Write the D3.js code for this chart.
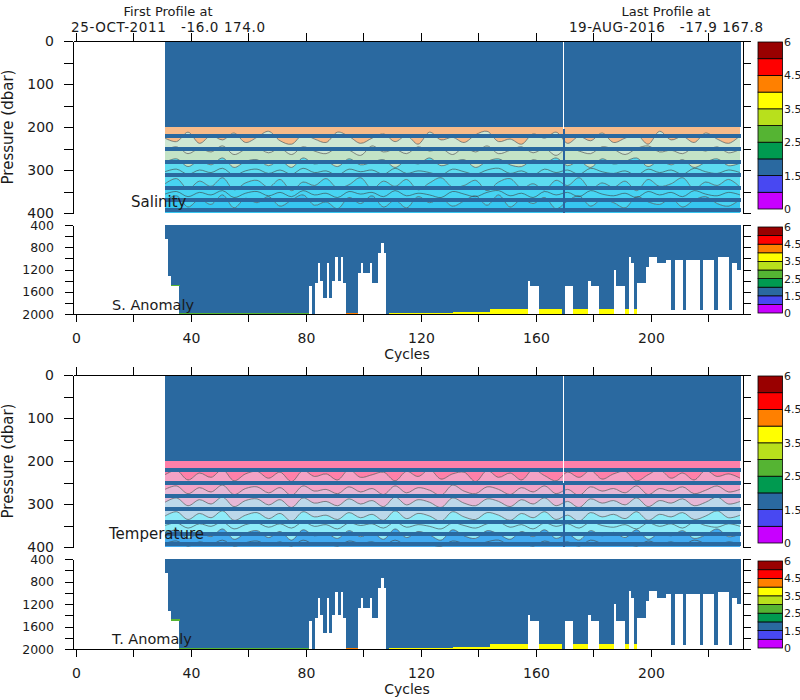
<!DOCTYPE html>
<html><head><meta charset="utf-8">
<script src="https://cdn.jsdelivr.net/npm/d3@7"></script>
<style>
body{margin:0;background:#fff}
text{font-family:"DejaVu Sans",sans-serif;fill:#1a1a1a}
</style>
</head><body>
<svg id="c" width="800" height="700"></svg>
<script>
// ---------------- DATA ----------------
const headerFirst = ["First Profile at", "25-OCT-2011   -16.0 174.0"];
const headerLast  = ["Last Profile at", "19-AUG-2016   -17.9 167.8"];
const cycleDomain = [-1, 232];
const cycleTicks  = [0,20,40,60,80,100,120,140,160,180,200,220];
const cycleLabels = [0,40,80,120,160,200];
const pTicksUpper  = [0,50,100,150,200,250,300,350,400];
const pLabelsUpper = [0,100,200,300,400];
const pTicksAnom   = [400,600,800,1000,1200,1400,1600,1800,2000];
const pLabelsAnom  = [400,800,1200,1600,2000];

const cbLevels = [0,1,1.5,2,2.5,3,3.5,4,4.5,5,6];
const cbColors = ["#c800ff","#4848f2","#2a69a0","#009a50","#55b433","#b8e01c","#ffff00","#ff8000","#ff0000","#990000"];
const cbLabels = [0,1.5,2.5,3.5,4.5,6];

const firstCycle = 31, lastCycle = 230;
const profileValue = 1.8;      // colour class of the plotted profile points
const denseTop = 200;          // dense sampling 0-200 dbar
const sparseLevels = [222, 252, 282, 312, 342, 370, 394];
const gapCycles = [169];       // profile missing in upper part
const gapTopSal = [205];
const gapTopTemp = [250];

// [first cycle, last cycle, deepest pressure]
const profileDepth = [
 [31,31,650],[32,32,1320],[33,35,1500],[36,80,2000],
 [81,81,1500],[82,82,2000],[83,83,1450],[84,84,1090],[85,85,1400],[86,86,1720],
 [87,87,1090],[88,88,1720],[89,89,1400],[90,90,980],[91,91,1400],[92,92,980],[93,93,1450],
 [94,97,2000],
 [98,98,1270],[99,99,1090],[100,101,1270],[102,102,1090],[103,104,1450],[105,105,910],[106,106,730],[107,107,910],
 [108,156,2000],
 [157,157,1400],[158,160,1500],[161,169,2000],[170,172,1500],[173,177,2000],
 [178,178,1400],[179,181,1500],[182,186,2000],[187,187,1200],[188,190,1500],[191,191,2000],
 [192,192,970],[193,193,1090],[194,194,2000],[195,197,1450],[198,198,1150],[199,201,970],
 [202,204,1090],[205,206,1030],[207,207,1920],[208,210,1030],[211,211,1920],[212,216,1030],
 [217,217,1920],[218,221,1030],[222,222,1920],[223,226,980],[227,227,1920],[228,229,1090],[230,230,1200]
];
// deep anomaly layers [first cycle, last cycle, top pressure, value]
const anomLayers = [
 [33,35,1470,2.7],[36,80,1975,2.7],[94,97,1975,4.2],[109,130,1978,3.7],
 [131,143,1962,3.7],[144,195,1905,3.7]
];
const noLayerCycles = [169];

// contour sampling cycles
const contourCycles = [31,35,39,43,47,51,55,59,63,67,71,75,79,83,87,91,95,99,103,107,111,115,119,123,127,131,135,139,143,147,151,155,159,163,167,171,175,179,183,187,191,195,199,203,207,211,215,219,223,227,231];

// salinity contour depths (dbar) – band boundaries
const salC1 = [226,234,212,238,220,230,214,236,224,210,232,240,218,228,236,212,222,238,226,216,234,220,240,212,230,224,236,218,210,234,228,240,216,226,212,238,222,232,214,236,226,218,240,210,230,222,236,214,228,238,220];
const salC2 = [254,246,262,250,258,244,264,252,248,260,250,264,246,256,262,248,254,266,244,258,252,262,246,256,250,264,248,258,244,262,254,246,260,250,266,248,256,262,246,252,264,250,244,258,254,262,248,256,246,260,252];
const salC3 = [282,274,292,278,288,272,294,280,276,290,278,294,272,286,280,292,274,288,282,276,294,278,286,272,290,282,276,294,280,274,288,292,276,284,272,290,280,294,274,286,280,272,292,278,288,276,294,282,274,290,284];
const salC4 = [332,320,344,326,338,318,346,330,324,340,322,348,328,336,320,342,334,318,344,326,338,322,346,330,318,340,336,324,348,328,320,342,332,346,324,336,318,344,330,340,326,348,322,338,332,318,344,328,336,322,340];
const salC5 = [372,360,386,368,380,358,388,366,376,362,384,370,358,382,374,390,364,378,360,386,370,388,362,376,366,384,372,360,382,358,386,368,378,364,390,372,360,384,368,376,388,362,374,380,366,386,370,362,378,384,368];
// salinity extra contour lines
const salC6 = [304,298,310,300,306,296,312,302,298,308,300,310,296,306,302,312,298,304,300,310,296,308,302,306,312,298,304,310,300,296,308,302,312,298,306,300,310,296,304,308,302,312,298,306,300,310,296,304,308,300,306];
const salC7 = [356,350,362,352,358,348,364,354,350,360,352,362,348,358,354,364,350,356,352,362,348,360,354,358,364,350,356,362,352,348,360,354,364,350,358,352,362,348,356,360,354,364,350,358,352,362,348,356,360,352,358];
const salFills = ["#f7bb8a","#cfe7d3","#c3e3c6","#5ddbef","#47d4f2","#36c6f0"];

// temperature contour depths (dbar) – band boundaries
const tmpC1 = [232,222,244,228,238,220,246,230,224,240,226,248,222,236,230,244,220,238,232,226,246,224,236,220,242,230,226,248,222,238,228,244,220,234,246,226,238,222,242,230,224,246,232,220,240,228,244,222,236,230,240];
const tmpC2 = [266,258,276,262,272,256,278,264,260,274,262,280,258,270,266,276,260,272,264,278,258,274,262,268,280,256,270,276,260,266,278,262,272,258,276,266,280,260,270,264,274,258,278,264,270,260,276,268,258,272,266];
const tmpC3 = [296,286,304,290,300,284,306,292,288,302,290,308,286,298,294,304,288,300,292,306,284,302,290,296,308,286,298,304,288,294,306,290,300,286,304,294,308,288,298,292,302,286,306,292,298,288,304,296,284,300,294];
const tmpC4 = [328,318,336,322,332,316,338,326,320,334,322,340,318,330,326,336,320,332,324,338,316,334,322,328,340,318,330,336,320,326,338,322,332,318,336,326,340,320,330,324,334,318,338,324,330,320,336,328,316,332,326];
const tmpC5 = [370,360,380,366,376,358,382,368,362,378,364,384,360,374,368,380,362,376,366,382,358,378,364,372,384,360,374,380,362,370,382,364,376,360,380,370,384,362,374,366,378,360,382,368,374,362,380,372,358,376,370];
// temperature extra contour lines
const tmpC6 = [350,344,356,346,352,342,358,348,344,354,346,356,342,352,348,358,344,350,346,356,342,354,348,352,358,344,350,356,346,342,354,348,358,344,352,346,356,342,350,354,348,358,344,352,346,356,342,350,354,346,352];
const tmpC7 = [392,386,398,388,394,384,398,390,386,396,388,398,384,394,390,398,386,392,388,396,384,396,390,394,398,386,392,396,388,384,396,390,398,386,394,388,398,384,392,396,390,398,386,394,388,396,384,392,396,388,394];
const tmpFills = ["#ff80a9","#f4a2c5","#e6b8d6","#bcd8ea","#8eebf8","#42aaf0"];

// ---------------- DRAW ----------------
const svg = d3.select("#c");
const x = d3.scaleLinear().domain(cycleDomain).range([73, 743]);
const colorOf = d3.scaleThreshold().domain(cbLevels.slice(1, -1)).range(cbColors);
const cycles = d3.range(firstCycle, lastCycle + 1);
const depthOf = new Map();
profileDepth.forEach(([a, b, p]) => { for (let c = a; c <= b; c++) depthOf.set(c, p); });
const steel = colorOf(profileValue);
const colW = c => x(c + 1) - x(c) + 0.6;

const panels = [
  {label: "Salinity", anomLabel: "S. Anomaly", top: 41, bottom: 213, aTop: 225, aBottom: 314,
   lines: [salC1, salC2, salC3, salC4, salC5], extra: [salC6, salC7], fills: salFills, gapTop: gapTopSal,
   cb: [42, 209], cbA: [227, 313], labelX: 131, labelY: 207, aLabelY: 310, titleY: 127},
  {label: "Temperature", anomLabel: "T. Anomaly", top: 375, bottom: 547, aTop: 559, aBottom: 649,
   lines: [tmpC1, tmpC2, tmpC3, tmpC4, tmpC5], extra: [tmpC6, tmpC7], fills: tmpFills, gapTop: gapTopTemp,
   cb: [376, 543], cbA: [561, 648], labelX: 109, labelY: 539, aLabelY: 644, titleY: 461}
];

function styleAxis(g, fs) {
  g.attr("font-family", "DejaVu Sans, sans-serif").attr("font-size", fs);
  g.selectAll("path,line").attr("stroke", "#000").attr("stroke-width", 1).attr("shape-rendering", "crispEdges");
  g.selectAll("text").attr("fill", "#1a1a1a");
}

function colorbar(y0, y1) {
  const g = svg.append("g");
  const n = cbColors.length, h = (y1 - y0) / n;
  cbColors.forEach((col, i) => {
    g.append("rect").attr("x", 758).attr("y", y1 - (i + 1) * h).attr("width", 24.5).attr("height", h)
      .attr("fill", col).attr("stroke", "#000").attr("stroke-width", 0.8);
  });
  cbLabels.forEach(v => {
    const k = cbLevels.indexOf(v);
    g.append("text").attr("x", 784).attr("y", y1 - k * h + 4)
      .attr("font-family", "Liberation Sans, sans-serif").attr("font-size", 11).text(v);
  });
}

panels.forEach(P => {
  const yU = d3.scaleLinear().domain([0, 400]).range([P.top, P.bottom]);
  const yA = d3.scaleLinear().domain([400, 2000]).range([P.aTop, P.aBottom]);

  // --- contour fills ---
  const gU = svg.append("g");
  const nL = P.lines.length;
  const curve = d3.curveCatmullRom.alpha(0.5);
  for (let k = 0; k <= nL; k++) {
    const area = d3.area().curve(curve)
      .x((d, i) => x(contourCycles[i]))
      .y0((d, i) => yU(k === 0 ? denseTop : P.lines[k - 1][i]))
      .y1((d, i) => yU(k === nL ? 400 : P.lines[k][i]));
    gU.append("path").datum(contourCycles).attr("d", area).attr("fill", P.fills[k]);
  }
  // --- contour lines ---
  const line = d3.line().curve(curve).x((d, i) => x(contourCycles[i])).y(d => yU(d));
  P.lines.concat(P.extra).forEach(L => {
    gU.append("path").datum(L).attr("d", line).attr("fill", "none")
      .attr("stroke", "#3c3c3c").attr("stroke-width", 0.7).attr("stroke-opacity", 0.85);
  });
  // --- dense upper profile points ---
  const gD = svg.append("g").attr("shape-rendering", "crispEdges");
  gD.selectAll(null).data(cycles).join("rect")
    .attr("x", c => x(c)).attr("width", colW)
    .attr("y", yU(0)).attr("height", yU(denseTop) - yU(0)).attr("fill", steel);
  // --- sparse levels ---
  sparseLevels.forEach(p => {
    gD.selectAll(null).data(cycles).join("rect")
      .attr("x", c => x(c)).attr("width", colW)
      .attr("y", yU(p) - 2).attr("height", 4).attr("fill", steel);
  });
  // --- gap / dense profile ---
  gapCycles.forEach((c, i) => {
    gD.append("rect").attr("x", x(c) + 1.2).attr("width", 2.3)
      .attr("y", yU(P.gapTop[i])).attr("height", yU(400) - yU(P.gapTop[i])).attr("fill", "#2a64a0");
    gD.append("rect").attr("x", x(c) + 1).attr("width", 1.2)
      .attr("y", yU(0)).attr("height", yU(P.gapTop[i]) - yU(0)).attr("fill", "#fff");
  });

  // --- anomaly panel ---
  const gA = svg.append("g").attr("shape-rendering", "crispEdges");
  gA.selectAll(null).data(cycles).join("rect")
    .attr("x", c => x(c)).attr("width", colW)
    .attr("y", yA(400)).attr("height", c => yA(depthOf.get(c)) - yA(400)).attr("fill", steel);
  anomLayers.forEach(([a, b, pTop, v]) => {
    const cs = d3.range(a, b + 1).filter(c => depthOf.get(c) > pTop && !noLayerCycles.includes(c));
    gA.selectAll(null).data(cs).join("rect")
      .attr("x", c => x(c)).attr("width", colW)
      .attr("y", yA(pTop)).attr("height", c => yA(depthOf.get(c)) - yA(pTop)).attr("fill", colorOf(v));
  });

  // --- axes ---
  styleAxis(svg.append("g").attr("transform", `translate(0,${P.top})`)
    .call(d3.axisTop(x).tickValues(cycleTicks).tickSize(8).tickSizeOuter(0).tickFormat("")), 14);
  styleAxis(svg.append("g").attr("transform", "translate(73,0)")
    .call(d3.axisLeft(yU).tickValues(pTicksUpper).tickSize(9).tickSizeOuter(0).tickPadding(10)
      .tickFormat(d => pLabelsUpper.includes(d) ? d : "")), 14);
  styleAxis(svg.append("g").attr("transform", "translate(743,0)")
    .call(d3.axisRight(yU).tickValues(pTicksUpper).tickSize(8).tickSizeOuter(0).tickFormat("")), 14);
  styleAxis(svg.append("g").attr("transform", "translate(73,0)")
    .call(d3.axisLeft(yA).tickValues(pTicksAnom).tickSize(8).tickSizeOuter(0).tickPadding(11)
      .tickFormat(d => pLabelsAnom.includes(d) ? d : "")), 12.5);
  styleAxis(svg.append("g").attr("transform", "translate(743,0)")
    .call(d3.axisRight(yA).tickValues(pTicksAnom).tickSize(8).tickSizeOuter(0).tickFormat("")), 13);
  styleAxis(svg.append("g").attr("transform", `translate(0,${P.aBottom})`)
    .call(d3.axisBottom(x).tickValues(cycleTicks).tickSize(8).tickSizeOuter(0).tickPadding(11)
      .tickFormat(d => cycleLabels.includes(d) ? d : "")), 14);

  // --- labels ---
  svg.append("text").attr("x", 407).attr("y", P.aBottom + 45).attr("text-anchor", "middle")
    .attr("font-size", 14).text("Cycles");
  svg.append("text").attr("transform", `translate(13,${P.titleY}) rotate(-90)`).attr("text-anchor", "middle")
    .attr("font-size", 15).text("Pressure (dbar)");
  svg.append("text").attr("x", P.labelX).attr("y", P.labelY).attr("font-size", 15).text(P.label);
  svg.append("text").attr("x", 112).attr("y", P.aLabelY).attr("font-size", 14.5)
    .style("white-space", "pre").text(P.anomLabel);

  colorbar(P.cb[0], P.cb[1]);
  colorbar(P.cbA[0], P.cbA[1]);
});

// header
[[headerFirst, 168], [headerLast, 666]].forEach(([lines, cx]) => {
  svg.append("text").attr("x", cx).attr("y", 16).attr("text-anchor", "middle").attr("font-size", 13).text(lines[0]);
  svg.append("text").attr("x", cx).attr("y", 32).attr("text-anchor", "middle").attr("font-size", 13.5)
    .style("white-space", "pre").attr("textLength", 194).attr("lengthAdjust", "spacing").text(lines[1]);
});
</script>
</body></html>
